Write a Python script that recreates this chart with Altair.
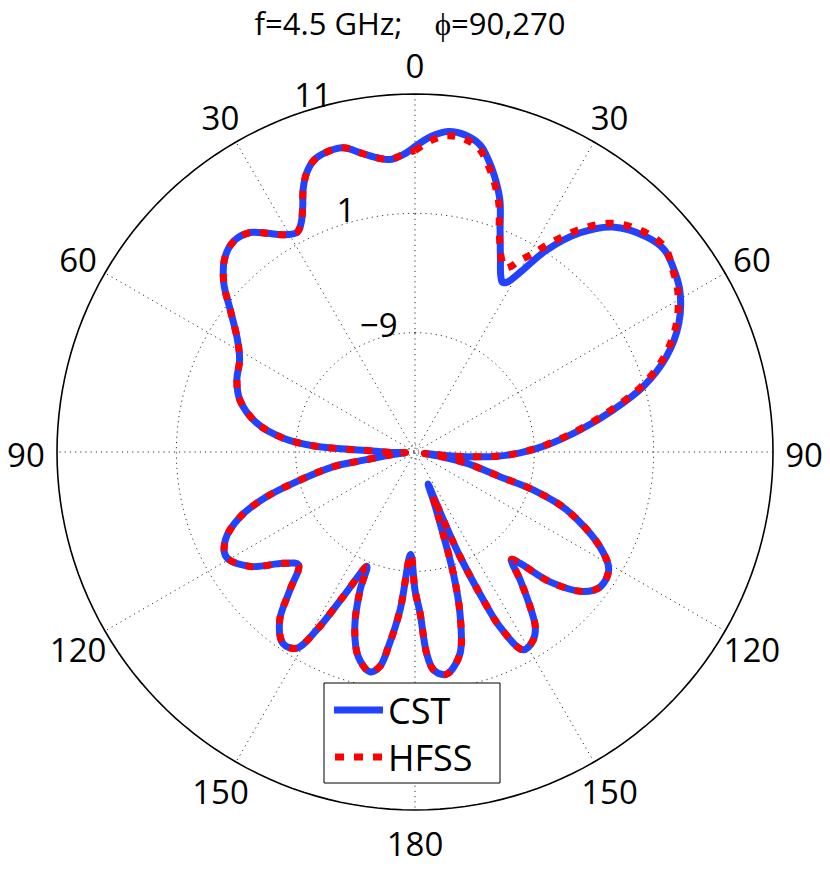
import altair as alt
import pandas as pd
import numpy as np

# ---------------- data (dB vs angle, clockwise from top; 0-180 = phi 90, 180-360 = phi 270) -------------
cst_theta = [0, 3, 5.9, 9, 12, 14, 16, 18.6, 21, 24, 26, 27.3, 28.5, 30.5, 33.1, 37, 41.3, 47.2, 51, 54.4,
             58.6, 64, 69.3, 74, 78, 82.4, 87, 90.5, 93, 95.2, 97, 98.5, 100, 102.3, 106.2, 107.8, 110.9,
             117.1, 121.3, 126.1, 129.7, 133.9, 136.7, 138.1, 140.6, 143.4, 145.5, 147.8, 151.3, 154.1,
             155.2, 156.7, 157.3, 157.9, 159.3, 160.7, 162.5, 164.4, 167.4, 171.4, 172.8, 175.2, 176.7,
             178.2, 180, 182.4, 185.4, 187.8, 189.3, 191.6, 195.5, 199.0, 201.7, 202.8, 206.4, 208.9,
             211.1, 214.5, 218.8, 222.2, 225.9, 229.8, 235.2, 240.9, 245.2, 249.7, 253.2, 256.3, 259.8,
             261, 263.5, 266, 268.5, 271.5, 272.6, 273.2, 276, 280.4, 286.5, 292, 297.7, 302.3, 307.5,
             311.5, 315.7, 319.5, 323.1, 326, 328.7, 331.8, 333.5, 335.4, 336.9, 338.8, 341, 343.5,
             346.7, 350, 353, 355.1, 358, 360]
cst_db = [6.6, 7.5, 8.0, 7.9, 7.3, 6.3, 5.1, 3.3, 0.9, -1.4, -2.6, -3.0, -2.8, -1.4, 1.2, 4.0, 6.1, 7.5,
          7.9, 7.6, 7.0, 5.6, 3.5, 0.9, -2.0, -5.05, -7.95, -10.2, -12.1, -14.65, -16.7, -18.2, -16.7,
          -14.6, -11.6, -8.6, -5.4, -1.6, 0.0, 0.2, -0.7, -3.3, -6.2, -6.9, -5.1, -2.8, -1.2, -0.4, -0.1,
          -2.7, -5.3, -9.45, -13.0, -16.1, -14.5, -12.5, -8.3, -5.0, -1.7, -0.25, -0.2, -0.7, -2.1, -5.5,
          -7.4, -10.4, -5.7, -2.5, -0.8, -0.2, -1.2, -3.5, -6.55, -8.6, -5.5, -2.0, 0.2, 0.5, -0.9, -3.4,
          -5.4, -4.55, -2.2, -0.9, -1.5, -3.4, -6.0, -9.1, -12.0, -14.9, -17.0, -18.2, -17.2, -15.4,
          -12.5, -10.8, -7.9, -5.5, -3.7, -2.9, -2.4, -1.4, 0.5, 2.4, 3.8, 4.3, 4.0, 3.1, 2.3, 1.9, 2.4,
          3.6, 4.9, 6.1, 6.9, 7.2, 7.2, 6.4, 5.8, 5.6, 6.0, 6.6]

hfss_theta = cst_theta
hfss_db = [6.25, 7.15, 7.65, 7.55, 6.95, 5.95, 4.8, 3.0, 0.7, -1.2, -1.8, -1.5, -0.8, 0.2, 2.0, 4.5, 6.5, 7.8,
           8.05, 7.5, 6.8, 5.35, 3.25, 0.65, -2.25, -5.25, -8.1, -10.3, -12.2, -14.7, -16.7, -18.2, -16.7,
           -14.6, -11.6, -8.6, -5.4, -1.6, 0.0, 0.2, -0.7, -3.3, -6.2, -6.9, -5.1, -2.8, -1.2, -0.4, -0.1,
           -2.7, -5.3, -9.45, -12.5, -15.0, -14.0, -12.3, -8.3, -5.0, -1.7, -0.25, -0.2, -0.7, -2.1, -5.5,
           -7.4, -10.4, -5.7, -2.5, -0.8, -0.2, -1.2, -3.5, -6.55, -8.6, -5.5, -2.0, 0.2, 0.5, -0.9, -3.4,
           -5.4, -4.55, -2.2, -0.9, -1.5, -3.4, -6.0, -9.1, -12.0, -14.9, -17.0, -18.2, -17.2, -15.4,
           -12.5, -10.8, -7.9, -5.5, -3.7, -2.9, -2.4, -1.4, 0.5, 2.4, 3.8, 4.3, 4.0, 3.1, 2.3, 1.9, 2.4,
           3.6, 4.9, 6.1, 6.9, 7.2, 7.2, 6.4, 5.8, 5.6, 6.0, 6.25]

series_names = ["CST", "HFSS"]
series_colors = ["#2342ff", "#ff0000"]

r_min_db = -19          # dB value at the centre
ring_db = [-9, 1, 11]   # dotted rings / outer ring
ring_text = ["\u22129", "1", "11"]
spoke_angles = [0, 30, 60, 90, 120, 150]
label_angles = [0, 30, 60, 90, 120, 150, 180, 210, 240, 270, 300, 330]
label_text = ["0", "30", "60", "90", "120", "150", "180", "150", "120", "90", "60", "30"]
title_text = "f=4.5 GHz;\u00a0\u00a0\u00a0\u00a0\u03d5=90,270"

# ---------------- layout ----------------
W, H = 814, 854
CX, CY = 407, 444          # centre in plot pixels
RMAX = 11 - r_min_db       # 30 units
K = 358 / RMAX             # pixels per unit
xs = alt.Scale(domain=[-CX / K, (W - CX) / K], nice=False, zero=False)
ys = alt.Scale(domain=[-(H - CY) / K, CY / K], nice=False, zero=False)
FONT = "Open Sans"

def polar_xy(chart, rexpr, aexpr, xn="x", yn="y"):
    return chart.transform_calculate(
        **{xn: f"({rexpr})*sin(({aexpr})*PI/180)", yn: f"({rexpr})*cos(({aexpr})*PI/180)"}
    )

# grid circles
phi = np.arange(0, 361, 2)
ring_rows = []
for db in ring_db[:-1]:
    for p in phi:
        ring_rows.append({"ring": db, "phi": float(p), "r": db - r_min_db})
for p in phi:
    ring_rows.append({"ring": -99, "phi": float(p), "r": 0.6})
rings = polar_xy(alt.Chart(pd.DataFrame(ring_rows)), "datum.r", "datum.phi").mark_line(
    color="#333", strokeWidth=1, strokeDash=[1.2, 4]
).encode(x=alt.X("x:Q", scale=xs, axis=None), y=alt.Y("y:Q", scale=ys, axis=None),
         detail="ring:N", order="phi:Q")

outer_rows = [{"phi": float(p), "r": RMAX} for p in phi]
outer = polar_xy(alt.Chart(pd.DataFrame(outer_rows)), "datum.r", "datum.phi").mark_line(
    color="black", strokeWidth=1.6
).encode(x=alt.X("x:Q", scale=xs, axis=None), y=alt.Y("y:Q", scale=ys, axis=None), order="phi:Q")

spokes = alt.Chart(pd.DataFrame({"a": spoke_angles})).transform_calculate(
    x=f"{RMAX}*sin(datum.a*PI/180)", y=f"{RMAX}*cos(datum.a*PI/180)",
    x2=f"-{RMAX}*sin(datum.a*PI/180)", y2=f"-{RMAX}*cos(datum.a*PI/180)"
).mark_rule(color="#333", strokeWidth=1, strokeDash=[1.2, 4]).encode(
    x=alt.X("x:Q", scale=xs, axis=None), y=alt.Y("y:Q", scale=ys, axis=None),
    x2="x2:Q", y2="y2:Q")

def curve(theta, db, name, color, dash=None):
    df = pd.DataFrame({"theta": theta, "db": db, "idx": range(len(theta)), "s": name})
    kw = dict(color=color, strokeWidth=7, interpolate="catmull-rom", strokeJoin="round")
    if dash:
        kw.update(strokeDash=dash, strokeCap="butt")
    else:
        kw.update(strokeCap="round")
    return polar_xy(alt.Chart(df), f"max(datum.db - ({r_min_db}), 0)", "datum.theta").mark_line(**kw).encode(
        x=alt.X("x:Q", scale=xs, axis=None), y=alt.Y("y:Q", scale=ys, axis=None), order="idx:Q")

cst = curve(cst_theta, cst_db, series_names[0], series_colors[0])
hfss = curve(hfss_theta, hfss_db, series_names[1], series_colors[1], dash=[8, 10])

ang_labels = polar_xy(alt.Chart(pd.DataFrame({"a": label_angles, "t": label_text})), "32.6", "datum.a").mark_text(
    font=FONT, fontSize=33, color="black", baseline="middle", align="center", dy=5
).encode(x=alt.X("x:Q", scale=xs, axis=None), y=alt.Y("y:Q", scale=ys, axis=None), text="t:N")

ring_labels = polar_xy(alt.Chart(pd.DataFrame({"db": ring_db, "t": ring_text})),
                       f"datum.db - ({r_min_db}) + 1.0", "-16").mark_text(
    font=FONT, fontSize=33, color="black", baseline="middle", align="center", dy=1
).encode(x=alt.X("x:Q", scale=xs, axis=None), y=alt.Y("y:Q", scale=ys, axis=None), text="t:N")

title = alt.Chart(pd.DataFrame({"t": [title_text]})).mark_text(
    font=FONT, fontSize=31, color="black", baseline="alphabetic", align="center"
).encode(x=alt.value(402), y=alt.value(27), text="t:N")

# legend
one = pd.DataFrame({"d": [0]})
leg_box = alt.Chart(one).mark_rect(fill="white", stroke="black", strokeWidth=1).encode(
    x=alt.value(316), x2=alt.value(492), y=alt.value(675), y2=alt.value(775))
leg_l1 = alt.Chart(one).mark_rule(color=series_colors[0], strokeWidth=7).encode(
    x=alt.value(326), x2=alt.value(375), y=alt.value(702))
leg_l2 = alt.Chart(one).mark_rule(color=series_colors[1], strokeWidth=7, strokeDash=[9, 10]).encode(
    x=alt.value(327), x2=alt.value(376), y=alt.value(749))
leg_t = alt.Chart(pd.DataFrame({"t": series_names, "yy": [716, 763]})).mark_text(
    font=FONT, fontSize=36, color="black", align="left", baseline="alphabetic"
).encode(x=alt.value(380), y=alt.Y("yy:Q", scale=None), text="t:N")

chart = alt.layer(
    rings, spokes, outer, cst, hfss, ang_labels, ring_labels, title, leg_box, leg_l1, leg_l2, leg_t
).properties(
    width=W, height=H, padding=0, autosize=alt.AutoSizeParams(type="none"), background="white"
).configure_view(stroke=None)

chart.save("out.html", embed_options={"renderer": "svg", "actions": False})
